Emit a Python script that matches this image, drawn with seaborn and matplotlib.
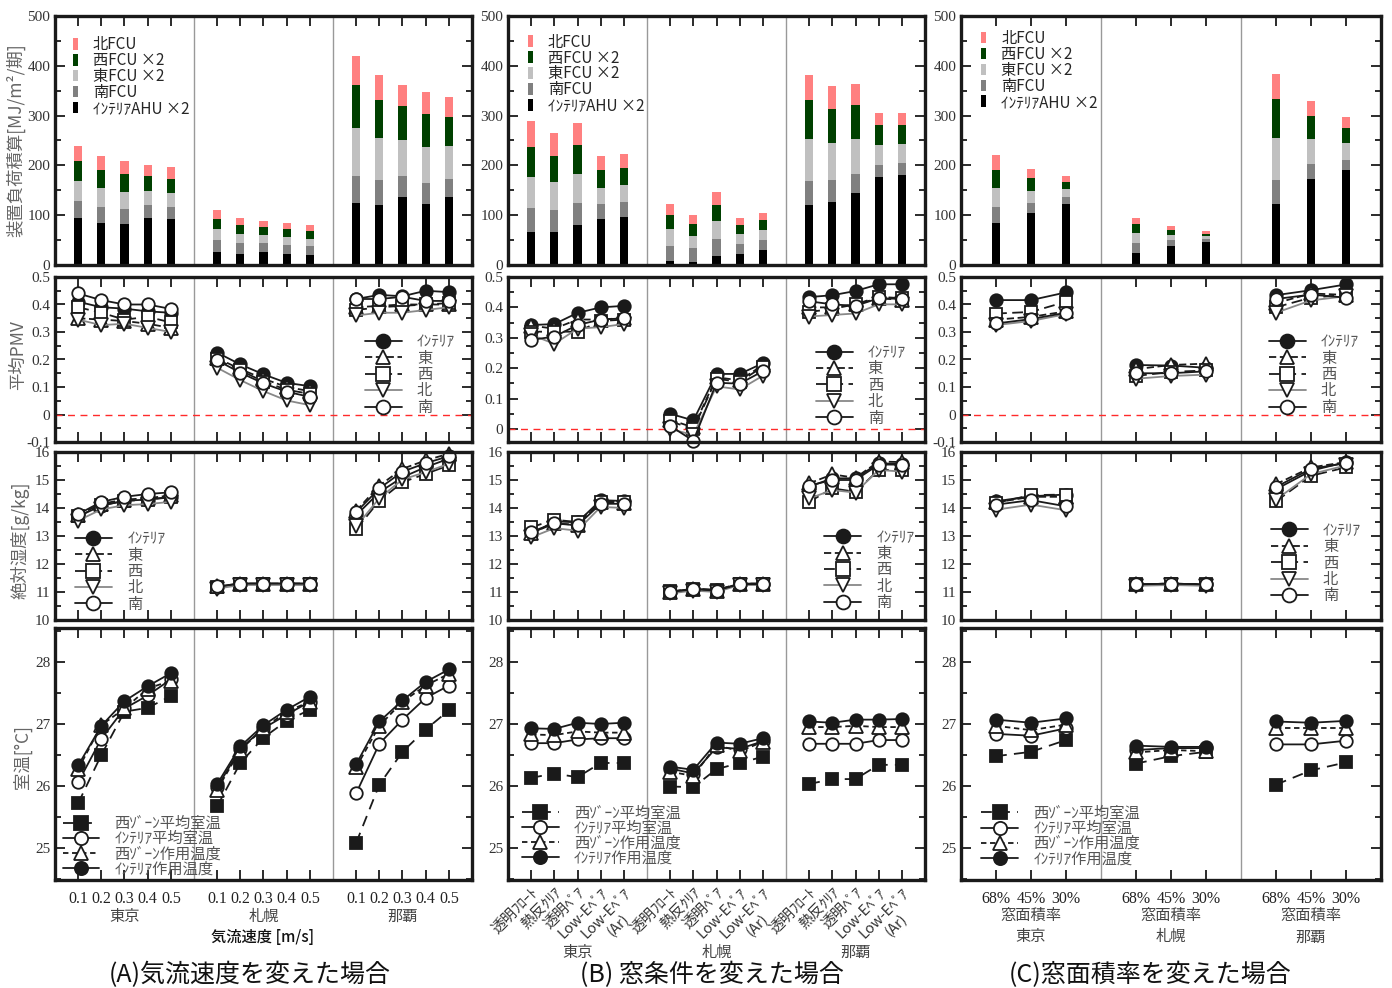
import numpy as np
import seaborn as sns
import matplotlib.pyplot as plt
from matplotlib.lines import Line2D
from matplotlib.patches import Patch
from matplotlib.ticker import MultipleLocator, FuncFormatter

sns.set_theme(style='ticks')
plt.rcParams['font.family'] = ['Liberation Serif', 'Noto Sans CJK JP']
plt.rcParams['axes.unicode_minus'] = False
JP = ['Noto Sans CJK JP', 'DejaVu Sans']

cities = ['東京', '札幌', '那覇']
a_ticks = ['0.1', '0.2', '0.3', '0.4', '0.5']
b_ticks = ['透明ﾌﾛｰﾄ', '熱反ｸﾘｱ', '透明ﾍﾟｱ', 'Low-Eﾍﾟｱ', 'Low-Eﾍﾟｱ\n(Ar)']
c_ticks = ['68%', '45%', '30%']

# load [MJ/m2/period], stacked bottom -> top: interior AHU, south, east, west, north
load_labels = ['ｲﾝﾃﾘｱAHU ×2', '南FCU', '東FCU ×2', '西FCU ×2', '北FCU']
load_colors = ['#000000', '#808080', '#c0c0c0', '#004000', '#ff8080']

a_ahu = [94, 85, 83, 94, 92, 26, 23, 26, 23, 21, 124, 121, 137, 122, 136]
a_south = [34, 31, 30, 26, 24, 24, 21, 18, 18, 18, 55, 49, 41, 43, 37]
a_east = [40, 38, 34, 28, 28, 22, 19, 16, 16, 14, 97, 85, 73, 72, 66]
a_west = [40, 36, 35, 30, 29, 21, 18, 16, 15, 16, 86, 77, 68, 67, 59]
a_north = [31, 29, 27, 23, 24, 17, 14, 12, 12, 11, 57, 50, 42, 44, 39]

b_ahu = [67, 67, 80, 92, 97, 9, 7, 19, 22, 31, 121, 127, 144, 177, 181]
b_south = [47, 43, 44, 30, 30, 30, 27, 34, 21, 20, 48, 43, 39, 24, 23]
b_east = [62, 56, 59, 33, 33, 33, 24, 35, 19, 19, 85, 75, 70, 40, 39]
b_west = [61, 53, 57, 36, 35, 28, 24, 32, 18, 20, 78, 68, 68, 40, 39]
b_north = [52, 47, 45, 27, 27, 23, 18, 26, 14, 15, 49, 47, 43, 24, 23]

c_ahu = [85, 105, 123, 25, 39, 47, 122, 173, 190]
c_south = [32, 20, 14, 20, 12, 6, 49, 30, 21]
c_east = [37, 24, 16, 20, 10, 5, 85, 50, 34]
c_west = [37, 26, 14, 18, 10, 5, 77, 47, 30]
c_north = [29, 18, 11, 12, 8, 5, 50, 30, 23]

# mean PMV: interior, east, west, north, south
a_pmv_int = [0.41, 0.39, 0.385, 0.375, 0.37, 0.225, 0.182, 0.146, 0.115, 0.103, 0.42, 0.435, 0.43, 0.45, 0.445]
a_pmv_e = [0.35, 0.345, 0.34, 0.33, 0.315, 0.205, 0.165, 0.13, 0.10, 0.085, 0.39, 0.395, 0.40, 0.40, 0.40]
a_pmv_w = [0.39, 0.37, 0.345, 0.355, 0.335, 0.20, 0.16, 0.12, 0.09, 0.075, 0.38, 0.39, 0.395, 0.40, 0.405]
a_pmv_n = [0.345, 0.325, 0.33, 0.315, 0.30, 0.17, 0.125, 0.085, 0.051, 0.034, 0.36, 0.37, 0.37, 0.38, 0.39]
a_pmv_s = [0.44, 0.416, 0.40, 0.40, 0.384, 0.197, 0.152, 0.113, 0.083, 0.064, 0.42, 0.42, 0.428, 0.413, 0.413]

b_pmv_int = [0.342, 0.345, 0.382, 0.40, 0.405, 0.05, 0.028, 0.181, 0.181, 0.216, 0.434, 0.44, 0.454, 0.476, 0.476]
b_pmv_e = [0.34, 0.33, 0.36, 0.36, 0.365, 0.03, 0.005, 0.17, 0.16, 0.21, 0.40, 0.40, 0.41, 0.43, 0.425]
b_pmv_w = [0.32, 0.32, 0.32, 0.355, 0.36, 0.025, 0.0, 0.165, 0.155, 0.205, 0.385, 0.395, 0.41, 0.435, 0.43]
b_pmv_n = [0.31, 0.28, 0.33, 0.335, 0.345, 0.0, -0.02, 0.14, 0.13, 0.175, 0.37, 0.375, 0.38, 0.41, 0.41]
b_pmv_s = [0.293, 0.304, 0.342, 0.36, 0.364, 0.01, -0.039, 0.152, 0.149, 0.19, 0.42, 0.41, 0.405, 0.43, 0.428]

c_pmv_int = [0.416, 0.416, 0.444, 0.18, 0.178, 0.17, 0.434, 0.452, 0.473]
c_pmv_e = [0.345, 0.355, 0.375, 0.165, 0.18, 0.185, 0.405, 0.44, 0.435]
c_pmv_w = [0.367, 0.373, 0.41, 0.14, 0.155, 0.16, 0.39, 0.425, 0.435]
c_pmv_n = [0.325, 0.34, 0.365, 0.13, 0.14, 0.145, 0.37, 0.415, 0.43]
c_pmv_s = [0.331, 0.347, 0.37, 0.15, 0.15, 0.157, 0.42, 0.436, 0.425]

# absolute humidity [g/kg]
a_ah_int = [13.7, 14.08, 14.26, 14.3, 14.38, 11.18, 11.3, 11.3, 11.3, 11.3, 13.74, 14.56, 15.1, 15.46, 15.76]
a_ah_e = [13.75, 14.15, 14.3, 14.35, 14.45, 11.2, 11.3, 11.3, 11.3, 11.3, 13.9, 14.8, 15.4, 15.7, 15.94]
a_ah_w = [13.7, 14.1, 14.25, 14.3, 14.4, 11.18, 11.28, 11.28, 11.28, 11.28, 13.24, 14.26, 14.92, 15.22, 15.52]
a_ah_n = [13.55, 13.95, 14.1, 14.14, 14.22, 11.12, 11.25, 11.25, 11.25, 11.25, 13.34, 14.35, 15.02, 15.28, 15.58]
a_ah_s = [13.78, 14.22, 14.4, 14.5, 14.56, 11.2, 11.3, 11.3, 11.3, 11.3, 13.85, 14.7, 15.3, 15.6, 15.85]

b_ah_int = [13.07, 13.52, 13.49, 14.28, 14.25, 11.0, 11.12, 11.06, 11.3, 11.3, 14.76, 15.06, 15.06, 15.6, 15.57]
b_ah_e = [13.1, 13.45, 13.4, 14.2, 14.18, 11.0, 11.1, 11.05, 11.28, 11.28, 14.88, 15.2, 15.08, 15.66, 15.64]
b_ah_w = [13.31, 13.58, 13.5, 14.22, 14.22, 11.02, 11.12, 11.08, 11.3, 11.3, 14.22, 14.7, 14.58, 15.36, 15.36]
b_ah_n = [12.95, 13.28, 13.19, 14.04, 14.0, 10.95, 11.05, 11.0, 11.25, 11.25, 14.34, 14.64, 14.55, 15.36, 15.3]
b_ah_s = [13.15, 13.45, 13.38, 14.15, 14.15, 11.0, 11.1, 11.05, 11.28, 11.28, 14.8, 15.0, 15.0, 15.55, 15.55]

c_ah_int = [14.24, 14.42, 14.48, 11.27, 11.3, 11.27, 14.67, 15.33, 15.64]
c_ah_e = [14.2, 14.4, 14.4, 11.27, 11.3, 11.27, 14.85, 15.45, 15.64]
c_ah_w = [14.18, 14.46, 14.48, 11.27, 11.3, 11.27, 14.24, 15.15, 15.45]
c_ah_n = [13.94, 14.12, 13.92, 11.22, 11.25, 11.22, 14.3, 15.21, 15.52]
c_ah_s = [14.12, 14.28, 14.06, 11.27, 11.3, 11.27, 14.75, 15.4, 15.6]

# room temperature [C]: west zone mean, interior mean, west zone operative, interior operative
a_t_wz = [25.72, 26.5, 27.2, 27.26, 27.45, 25.67, 26.37, 26.78, 27.05, 27.23, 25.08, 26.02, 26.55, 26.91, 27.22]
a_t_int = [26.06, 26.76, 27.25, 27.46, 27.72, 25.98, 26.6, 26.93, 27.15, 27.36, 25.88, 26.68, 27.07, 27.42, 27.62]
a_t_wzop = [26.27, 26.98, 27.25, 27.57, 27.7, 25.94, 26.58, 26.93, 27.2, 27.36, 26.3, 26.97, 27.36, 27.62, 27.81]
a_t_intop = [26.33, 26.97, 27.37, 27.61, 27.82, 26.03, 26.64, 26.98, 27.23, 27.44, 26.35, 27.04, 27.38, 27.68, 27.88]

b_t_wz = [26.13, 26.2, 26.14, 26.37, 26.37, 25.99, 25.98, 26.27, 26.37, 26.47, 26.03, 26.11, 26.11, 26.34, 26.34]
b_t_int = [26.69, 26.69, 26.75, 26.77, 26.77, 26.28, 26.2, 26.62, 26.6, 26.72, 26.68, 26.68, 26.68, 26.74, 26.74]
b_t_wzop = [26.83, 26.82, 26.88, 26.86, 26.86, 26.23, 26.16, 26.66, 26.56, 26.71, 26.95, 26.95, 26.97, 26.95, 26.95]
b_t_intop = [26.93, 26.92, 27.02, 27.0, 27.02, 26.31, 26.26, 26.7, 26.68, 26.77, 27.04, 27.02, 27.07, 27.07, 27.08]

c_t_wz = [26.48, 26.55, 26.74, 26.36, 26.48, 26.55, 26.02, 26.25, 26.38]
c_t_int = [26.84, 26.81, 26.93, 26.58, 26.61, 26.61, 26.67, 26.67, 26.73]
c_t_wzop = [26.97, 26.9, 26.99, 26.54, 26.58, 26.56, 26.94, 26.94, 26.94]
c_t_intop = [27.07, 27.02, 27.09, 26.65, 26.63, 26.63, 27.04, 27.02, 27.05]

pmv_styles = [('ｲﾝﾃﾘｱ', 'o', 'k', 'k', '-'),
              ('東', '^', 'w', 'k', (0, (4, 2))),
              ('西', 's', 'w', 'k', (0, (6, 3))),
              ('北', 'v', 'w', '#888888', '-'),
              ('南', 'o', 'w', 'k', '-')]
temp_styles = [('西ｿﾞｰﾝ平均室温', 's', 'k', 'k', (0, (6, 4))),
               ('ｲﾝﾃﾘｱ平均室温', 'o', 'w', 'k', '-'),
               ('西ｿﾞｰﾝ作用温度', '^', 'w', 'k', (0, (3, 2))),
               ('ｲﾝﾃﾘｱ作用温度', 'o', 'k', 'k', '-')]

W, H = 1392, 988
fig = plt.figure(figsize=(W / 100, H / 100), dpi=100)

col_px = [(55, 472), (508, 925), (961, 1381)]
row_px = [(16, 265), (277, 442), (452, 620), (628, 880)]


def add_ax(c, r):
    x0, x1 = col_px[c]
    y0, y1 = row_px[r]
    return fig.add_axes([x0 / W, 1 - y1 / H, (x1 - x0) / W, (y1 - y0) / H])


def frame(ax, xpos, xmax, dividers, ylim, major, minor):
    ax.set_xlim(0, xmax)
    ax.set_ylim(*ylim)
    ax.set_xticks(xpos)
    ax.yaxis.set_major_locator(MultipleLocator(major))
    ax.yaxis.set_minor_locator(MultipleLocator(minor))
    ax.yaxis.set_major_formatter(FuncFormatter(lambda v, p: '%g' % round(v, 3)))
    ax.tick_params(which='both', direction='in', top=True, right=True, width=1.3,
                   color='k', labelsize=11, labelcolor='#333333')
    ax.tick_params(which='major', length=7)
    ax.tick_params(which='minor', length=4)
    ax.tick_params(axis='x', labelbottom=False)
    for s in ax.spines.values():
        s.set_linewidth(2.4)
        s.set_color('k')
    for d in dividers:
        ax.axvline(d, color='#999999', lw=1, zorder=0.5)
    ax.set_xlabel('')
    ax.set_ylabel('')


def draw_bars(ax, x, parts, width):
    tops = np.cumsum(np.array(parts, dtype=float), axis=0)
    for top, c in zip(tops[::-1], load_colors[::-1]):
        sns.barplot(x=x, y=top, native_scale=True, orient='x', width=width, color=c,
                    saturation=1, errorbar=None, linewidth=0, ax=ax)


def draw_series(ax, x, y, npts, marker, fc, lc, ls):
    x = np.asarray(x, dtype=float)
    y = np.asarray(y, dtype=float)
    ms = 10 if marker in '^v' else 9
    for g in range(3):
        sl = slice(g * npts, (g + 1) * npts)
        sns.lineplot(x=x[sl], y=y[sl], ax=ax, color=lc, linestyle=ls, linewidth=1.3,
                     marker=marker, markersize=ms, markerfacecolor=fc,
                     markeredgecolor='k', markeredgewidth=1.3, clip_on=False, legend=False)


def line_handles(styles, ms):
    hs = []
    for lab, m, fc, lc, ls in styles:
        hs.append(Line2D([0], [0], color=lc, ls=ls, lw=1.3, marker=m, ms=ms,
                         mfc=fc, mec='k', mew=1.3, label=lab))
    return hs


def line_legend(ax, styles, loc, anchor, ms, spacing):
    ax.legend(handles=line_handles(styles, ms), loc=loc, bbox_to_anchor=anchor,
              frameon=False, handlelength=2.4, handletextpad=1.0, labelspacing=spacing,
              borderpad=0, labelcolor='#555555', prop={'family': JP, 'size': 11})


cols = [
    dict(npts=5, step=6, ticks=a_ticks,
         load=[a_ahu, a_south, a_east, a_west, a_north],
         pmv=[a_pmv_int, a_pmv_e, a_pmv_w, a_pmv_n, a_pmv_s],
         ah=[a_ah_int, a_ah_e, a_ah_w, a_ah_n, a_ah_s],
         temp=[a_t_wz, a_t_int, a_t_wzop, a_t_intop],
         pmv_ylim=(-0.1, 0.5), bw=0.35, bar_leg=(0.025, 0.95),
         pmv_leg=(0.725, 0.705), ah_leg=(0.03, 0.58), t_leg=(0.0, -0.02)),
    dict(npts=5, step=6, ticks=b_ticks,
         load=[b_ahu, b_south, b_east, b_west, b_north],
         pmv=[b_pmv_int, b_pmv_e, b_pmv_w, b_pmv_n, b_pmv_s],
         ah=[b_ah_int, b_ah_e, b_ah_w, b_ah_n, b_ah_s],
         temp=[b_t_wz, b_t_int, b_t_wzop, b_t_intop],
         pmv_ylim=(-0.043, 0.5), bw=0.35, bar_leg=(0.03, 0.96),
         pmv_leg=(0.72, 0.64), ah_leg=(0.74, 0.59), t_leg=(0.015, 0.022)),
    dict(npts=3, step=4, ticks=c_ticks,
         load=[c_ahu, c_south, c_east, c_west, c_north],
         pmv=[c_pmv_int, c_pmv_e, c_pmv_w, c_pmv_n, c_pmv_s],
         ah=[c_ah_int, c_ah_e, c_ah_w, c_ah_n, c_ah_s],
         temp=[c_t_wz, c_t_int, c_t_wzop, c_t_intop],
         pmv_ylim=(-0.1, 0.5), bw=0.23, bar_leg=(0.03, 0.975),
         pmv_leg=(0.715, 0.705), ah_leg=(0.72, 0.63), t_leg=(0.03, 0.02)),
]

for ci, cfg in enumerate(cols):
    npts, step = cfg['npts'], cfg['step']
    xpos = np.concatenate([np.arange(1, npts + 1) + g * step for g in range(3)])
    xmax = 3 * step
    divs = [step, 2 * step]

    # row 0: stacked loads
    ax = add_ax(ci, 0)
    draw_bars(ax, xpos, cfg['load'], cfg['bw'])
    frame(ax, xpos, xmax, divs, (0, 500), 100, 50)
    hs = [Patch(facecolor=c, edgecolor='none', label=l)
          for l, c in zip(load_labels[::-1], load_colors[::-1])]
    ax.legend(handles=hs, loc='upper left', bbox_to_anchor=cfg['bar_leg'], frameon=False,
              handlelength=0.3, handleheight=0.8, handletextpad=1.0, labelspacing=-0.07,
              borderpad=0, prop={'family': JP, 'size': 11})

    # row 1: PMV
    ax = add_ax(ci, 1)
    ax.axhline(0, color='#ff2a2a', ls=(0, (5, 4)), lw=1, zorder=1)
    for y, st in zip(cfg['pmv'], pmv_styles):
        draw_series(ax, xpos, y, npts, *st[1:])
    frame(ax, xpos, xmax, divs, cfg['pmv_ylim'], 0.1, 0.05)
    line_legend(ax, pmv_styles, 'upper left', cfg['pmv_leg'], 10, -0.04)

    # row 2: absolute humidity
    ax = add_ax(ci, 2)
    for y, st in zip(cfg['ah'], pmv_styles):
        draw_series(ax, xpos, y, npts, *st[1:])
    frame(ax, xpos, xmax, divs, (10, 16), 1, 0.5)
    line_legend(ax, pmv_styles, 'upper left', cfg['ah_leg'], 10, -0.04)

    # row 3: temperatures
    ax = add_ax(ci, 3)
    for y, st in zip(cfg['temp'], temp_styles):
        draw_series(ax, xpos, y, npts, *st[1:])
    frame(ax, xpos, xmax, divs, (24.48, 28.55), 1, 0.5)
    line_legend(ax, temp_styles, 'lower left', cfg['t_leg'], 9.5, -0.12)
    ax.tick_params(axis='x', labelbottom=True)
    centers = [g * step + step / 2 for g in range(3)]
    xt = ax.get_xaxis_transform()
    if ci == 0:
        ax.set_xticklabels(cfg['ticks'] * 3, fontsize=11.5, color='#222222')
        ax.tick_params(axis='x', pad=8)
        for cx, name in zip(centers, cities):
            ax.text(cx, -0.143, name, transform=xt, ha='center', va='center',
                    family=JP, fontsize=11, color='#444444')
        fig.text(263 / W, 1 - 937 / H, '気流速度 [m/s]', ha='center', va='center',
                 family=JP, fontsize=11, weight='medium', color='#111111')
    elif ci == 1:
        ax.set_xticklabels(cfg['ticks'] * 3, rotation=45, ha='right', va='top',
                           rotation_mode='anchor', multialignment='center',
                           family=JP, fontsize=10.5, color='#333333')
        ax.tick_params(axis='x', pad=4)
        for cx, name in zip(centers, cities):
            ax.text(cx, -0.286, name, transform=xt, ha='center', va='center',
                    family=JP, fontsize=11, color='#444444')
    else:
        ax.set_xticklabels(cfg['ticks'] * 3, fontsize=11.5, color='#222222')
        ax.tick_params(axis='x', pad=8)
        for cx, name in zip(centers, cities):
            ax.text(cx, -0.139, '窓面積率', transform=xt, ha='center', va='center',
                    family=JP, fontsize=11, color='#444444')
            ax.text(cx, -0.226, name, transform=xt, ha='center', va='center',
                    family=JP, fontsize=11, color='#444444')

# y labels
ylabs = [('装置負荷積算[MJ/m²/期]', 16, 140), ('平均PMV', 18, 355),
         ('絶対湿度[g/kg]', 20, 540), ('室温[°C]', 22, 757)]
for txt, px, py in ylabs:
    fig.text(px / W, 1 - py / H, txt, rotation=90, ha='center', va='center',
             family=JP, fontsize=12.5, color='#666666')

# case titles
for txt, px in [('(A)気流速度を変えた場合', 250), ('(B) 窓条件を変えた場合', 712),
                ('(C)窓面積率を変えた場合', 1150)]:
    fig.text(px / W, 1 - 975 / H, txt, ha='center', va='center', family=JP,
             fontsize=18, color='#111111')

fig.savefig('out.png', dpi=100)
